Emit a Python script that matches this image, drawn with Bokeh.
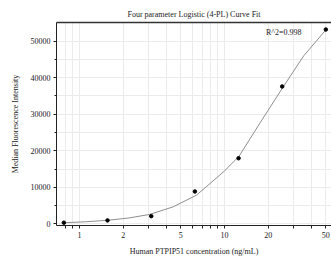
from bokeh.plotting import figure
from bokeh.models import LinearAxis, FixedTicker, Range1d, Label
from bokeh.embed import file_html
from bokeh.resources import INLINE

# Measured standards
conc = [0.78, 1.56, 3.125, 6.25, 12.5, 25, 50]
mfi = [300, 930, 2100, 8850, 17950, 37600, 53200]

# Fitted 4-PL curve
curve_conc = [0.76, 1.1, 1.53, 2.2, 3.05, 4.43, 6.41, 9.9, 12.6, 17.7, 25.4, 35.2, 50.5]
curve_mfi = [270, 560, 930, 1600, 2570, 4650, 7840, 14300, 18500, 27800, 37500, 46000, 53300]

x_major = [1, 2, 5, 10, 20, 50]
x_minor = [0.8, 0.9, 3, 4, 6, 7, 8, 9, 30, 40]
y_major = [0, 10000, 20000, 30000, 40000, 50000]
y_minor = [5000, 15000, 25000, 35000, 45000]

title_text = "Four parameter Logistic (4-PL) Curve Fit"
x_label = "Human PTPIP51 concentration (ng/mL)"
y_label = "Median Fluorescence Intensity"
r2_text = "R^2=0.998"

FONT = "Liberation Serif"
GRID = "#ebebeb"
TXT = "#222222"

p = figure(width=331, height=264, output_backend="svg", toolbar_location=None,
           x_axis_type="log", x_range=Range1d(0.694, 54.7), y_range=Range1d(-465, 55120),
           min_border_left=56, min_border_right=0, min_border_bottom=39, min_border_top=22,
           background_fill_color="white", border_fill_color="white")

p.title.text = title_text
p.title.text_font = FONT
p.title.text_font_size = "8px"
p.title.text_font_style = "normal"
p.title.align = "center"
p.title.text_color = TXT
p.title.standoff = 8
p.outline_line_color = None

xa = p.xaxis[0]
xa.ticker = FixedTicker(ticks=x_major, minor_ticks=x_minor)
xa.axis_label = x_label
ya = p.yaxis[0]
ya.ticker = FixedTicker(ticks=y_major, minor_ticks=y_minor)
ya.axis_label = y_label

for ax in (xa, ya):
    ax.axis_label_text_font = FONT
    ax.axis_label_text_font_size = "8px"
    ax.axis_label_text_font_style = "normal"
    ax.axis_label_text_color = TXT
    ax.major_label_text_font = FONT
    ax.major_label_text_font_size = "8px"
    ax.major_label_text_color = TXT
    ax.axis_line_color = TXT
    ax.major_tick_line_color = TXT
    ax.minor_tick_line_color = TXT
    ax.major_tick_in = 0
    ax.major_tick_out = 3
    ax.minor_tick_in = 0
    ax.minor_tick_out = 2
    ax.major_label_standoff = 3
xa.minor_tick_out = 3
xa.axis_label_standoff = 6
ya.axis_label_standoff = 8

top = LinearAxis(major_tick_line_color=None, minor_tick_line_color=None,
                 major_label_text_font_size="0px", axis_line_color="#333333",
                 axis_line_width=1.6)
top.ticker = FixedTicker(ticks=[])
p.add_layout(top, "above")

for g in (p.xgrid[0], p.ygrid[0]):
    g.grid_line_color = GRID
    g.minor_grid_line_color = GRID
    g.grid_line_width = 1
    g.minor_grid_line_width = 1

p.line(curve_conc, curve_mfi, line_color="#8f8f8f", line_width=1)
p.scatter(conc, mfi, size=3.5, fill_color="black", line_color="black")

# Label in frame-relative screen units (origin at the frame's bottom-left)
p.add_layout(Label(x=245, y=193, x_units="screen", y_units="screen", text=r2_text,
                   text_font=FONT, text_font_size="8px", text_color=TXT,
                   text_align="right", text_baseline="middle"))

html = file_html(p, INLINE)
open("out.html", "w").write(html)
